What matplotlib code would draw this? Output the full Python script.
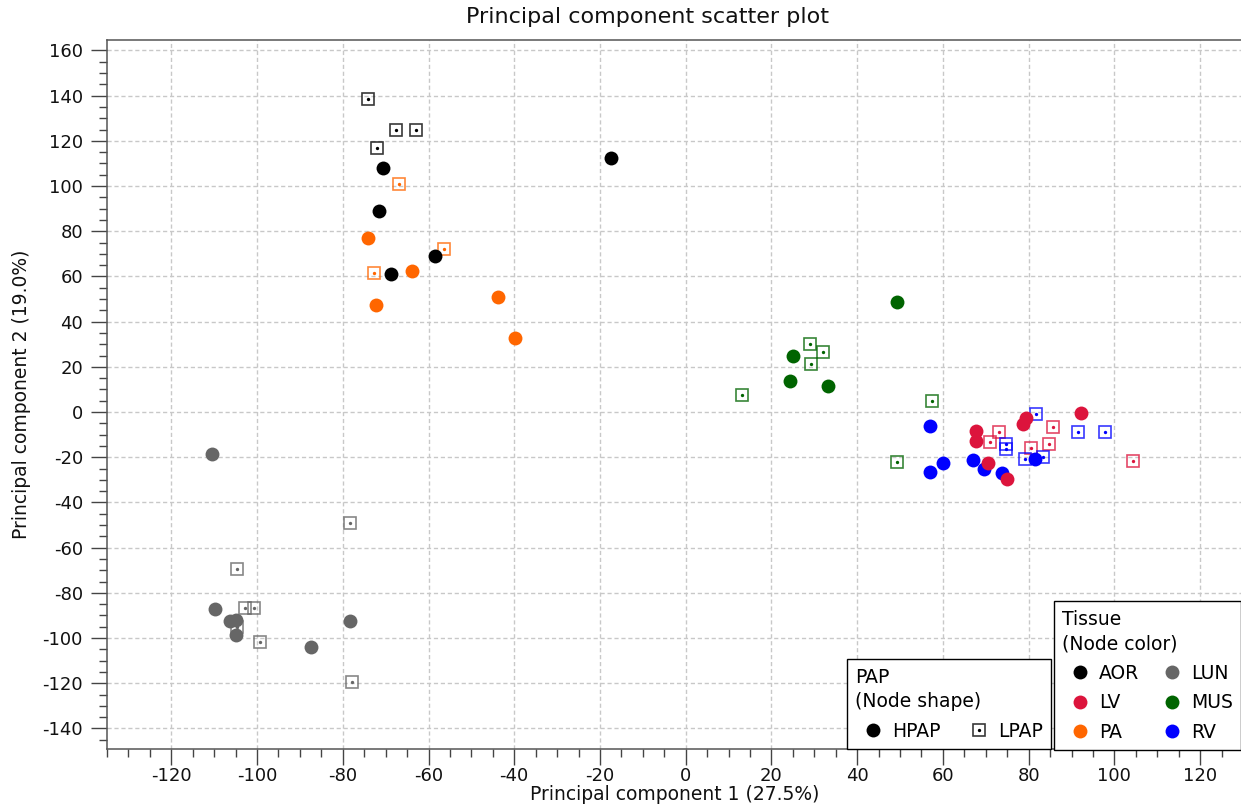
import matplotlib
matplotlib.use("Agg")
import matplotlib.pyplot as plt
from matplotlib.lines import Line2D
from matplotlib.ticker import MultipleLocator

plt.rcParams["font.family"] = "DejaVu Sans"
plt.rcParams["axes.unicode_minus"] = False

# ---- PCA scores per tissue and PAP group (PC1, PC2) ----
aor_hpap_pc1 = [-70.5, -71.6, -68.8, -58.6, -17.5]
aor_hpap_pc2 = [108.0, 88.9, 61.1, 69.0, 112.4]
aor_lpap_pc1 = [-74.2, -67.7, -63.0, -71.9]
aor_lpap_pc2 = [138.5, 124.8, 124.8, 116.8]

lun_hpap_pc1 = [-110.6, -109.9, -106.2, -104.8, -104.8, -87.3, -78.4]
lun_hpap_pc2 = [-18.6, -87.2, -92.5, -92.0, -98.7, -104.0, -92.5]
lun_lpap_pc1 = [-104.6, -102.8, -100.7, -104.6, -99.2, -77.9, -78.2]
lun_lpap_pc2 = [-69.3, -86.7, -86.7, -95.1, -101.9, -119.3, -49.1]

lv_hpap_pc1 = [67.7, 67.7, 70.4, 75.0, 78.6, 79.3, 92.2]
lv_hpap_pc2 = [-8.3, -12.8, -22.7, -29.8, -5.4, -2.8, -0.6]
lv_lpap_pc1 = [73.0, 70.9, 85.6, 80.5, 84.7, 104.4]
lv_lpap_pc2 = [-9.0, -13.3, -6.5, -15.8, -14.3, -21.7]

mus_hpap_pc1 = [49.3, 25.0, 24.3, 33.2]
mus_hpap_pc2 = [48.5, 24.9, 13.7, 11.5]
mus_lpap_pc1 = [13.2, 29.0, 32.0, 29.2, 57.4, 49.4]
mus_lpap_pc2 = [7.7, 30.1, 26.7, 21.2, 5.0, -22.0]

pa_hpap_pc1 = [-74.2, -72.3, -63.9, -43.9, -39.9]
pa_hpap_pc2 = [77.0, 47.3, 62.4, 50.9, 32.7]
pa_lpap_pc1 = [-67.0, -72.8, -56.5]
pa_lpap_pc2 = [100.9, 61.5, 72.1]

rv_hpap_pc1 = [56.9, 57.1, 60.1, 67.0, 69.5, 73.7, 81.5]
rv_hpap_pc2 = [-6.2, -26.5, -22.4, -21.2, -25.4, -27.1, -20.7]
rv_lpap_pc1 = [81.8, 74.8, 74.8, 79.2, 83.4, 91.6, 97.9]
rv_lpap_pc2 = [-1.0, -14.3, -16.4, -20.9, -20.0, -9.0, -9.0]

tissue_names = ["AOR", "LUN", "LV", "MUS", "PA", "RV"]
tissue_colors = ["#000000", "#666666", "#dc143c", "#006400", "#ff6600", "#0000ff"]
pap_names = ["HPAP", "LPAP"]

hpap = {
    "AOR": (aor_hpap_pc1, aor_hpap_pc2),
    "LUN": (lun_hpap_pc1, lun_hpap_pc2),
    "LV": (lv_hpap_pc1, lv_hpap_pc2),
    "MUS": (mus_hpap_pc1, mus_hpap_pc2),
    "PA": (pa_hpap_pc1, pa_hpap_pc2),
    "RV": (rv_hpap_pc1, rv_hpap_pc2),
}
lpap = {
    "AOR": (aor_lpap_pc1, aor_lpap_pc2),
    "LUN": (lun_lpap_pc1, lun_lpap_pc2),
    "LV": (lv_lpap_pc1, lv_lpap_pc2),
    "MUS": (mus_lpap_pc1, mus_lpap_pc2),
    "PA": (pa_lpap_pc1, pa_lpap_pc2),
    "RV": (rv_lpap_pc1, rv_lpap_pc2),
}
color_of = dict(zip(tissue_names, tissue_colors))

W, H = 1241, 805
fig = plt.figure(figsize=(W / 100, H / 100), dpi=100)
ax = fig.add_axes([107 / W, 1 - 749 / H, 1136 / W, 709 / H])

CIRCLE_MS = 10.0
SQUARE_MS = 8.8


def square_style(c):
    return dict(marker="s", ms=SQUARE_MS, mfc="none", mec=c, mew=1.2,
                ls="none", alpha=0.78)


def dot_style(c):
    return dict(marker="o", ms=2.4, mfc=c, mec=c, mew=0, ls="none")


def circle_style(c):
    return dict(marker="o", ms=CIRCLE_MS, mfc=c, mec=c, mew=0, ls="none")


# open squares with a centre dot for LPAP samples
for t in tissue_names:
    x, y = lpap[t]
    ax.plot(x, y, zorder=2, **square_style(color_of[t]))
    ax.plot(x, y, zorder=2, **dot_style(color_of[t]))

# filled circles for HPAP samples
for t in ["AOR", "LUN", "MUS", "PA", "RV", "LV"]:
    x, y = hpap[t]
    ax.plot(x, y, zorder=3, **circle_style(color_of[t]))

ax.set_xlim(-135, 130)
ax.set_ylim(-149.1, 164.6)
ax.xaxis.set_major_locator(MultipleLocator(20))
ax.xaxis.set_minor_locator(MultipleLocator(5))
ax.yaxis.set_major_locator(MultipleLocator(20))
ax.yaxis.set_minor_locator(MultipleLocator(5))

ax.grid(True, which="major", color="#c8c8c8", lw=1.0, ls=(0, (3, 2)))
ax.set_axisbelow(True)

for side in ["left", "bottom", "top"]:
    ax.spines[side].set_color("#555555")
    ax.spines[side].set_linewidth(1.1)
ax.spines["right"].set_visible(False)

ax.tick_params(which="both", direction="out", colors="#444444", width=1.0,
               labelcolor="#111111", labelsize=13)
ax.tick_params(which="major", length=11.3)
ax.tick_params(which="minor", length=5.8)
ax.tick_params(axis="y", which="major", pad=6)
ax.tick_params(axis="x", which="major", pad=2)

fig.text(648 / W, 1 - 17 / H, "Principal component scatter plot",
         ha="center", va="center", fontsize=16, color="#111111")
fig.text(675 / W, 1 - 800 / H, "Principal component 1 (27.5%)",
         ha="center", va="baseline", fontsize=13.5, color="#111111")
fig.text(22 / W, 1 - 394 / H, "Principal component 2 (19.0%)",
         ha="center", va="center", rotation=90, fontsize=13.5, color="#111111")

legend_kw = dict(
    fontsize=13.5, title_fontsize=13.5, frameon=True, fancybox=False,
    edgecolor="black", framealpha=1.0, borderpad=0.45, handlelength=1.9,
    handletextpad=0.05, labelspacing=0.56, ncol=2,
    alignment="left", bbox_transform=fig.transFigure, borderaxespad=0,
)

# shape legend
h_circ = Line2D([], [], **circle_style("black"))
h_sq = Line2D([], [], **square_style("black"))
h_dot = Line2D([], [], **dot_style("black"))
leg1 = ax.legend([h_circ, (h_sq, h_dot)], pap_names,
                 title="PAP\n(Node shape)", loc="lower right",
                 bbox_to_anchor=(1051 / W, 1 - 749 / H), columnspacing=1.1,
                 **legend_kw)
ax.add_artist(leg1)

# colour legend
col_order = ["AOR", "LV", "PA", "LUN", "MUS", "RV"]
col_handles = [Line2D([], [], **circle_style(color_of[t])) for t in col_order]
leg2 = ax.legend(col_handles, col_order, title="Tissue\n(Node color)",
                 loc="lower left", bbox_to_anchor=(1054 / W, 1 - 750 / H),
                 columnspacing=0.8, **legend_kw)
for lg in (leg1, leg2):
    lg.get_frame().set_linewidth(1.0)
    lg.get_title().set_linespacing(1.36)
    lg.set_zorder(5)

fig.savefig("out.png", dpi=100)
